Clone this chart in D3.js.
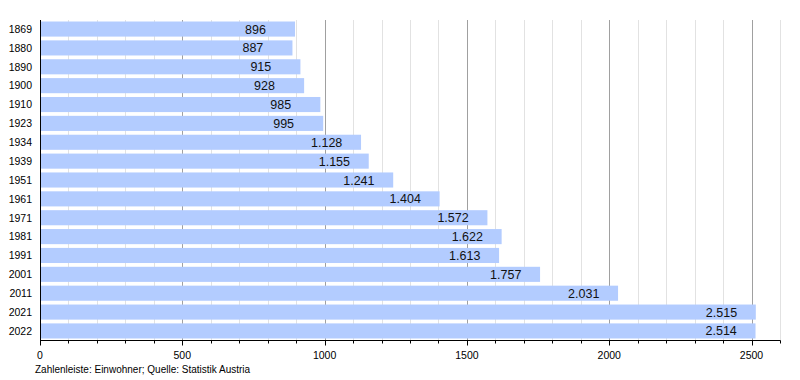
<!DOCTYPE html>
<html>
<head>
<meta charset="utf-8">
<script src="https://cdn.jsdelivr.net/npm/d3@7"></script>
<style>
  body { margin: 0; background: #fff; }
  svg { display: block; font-family: "Liberation Sans", Arial, sans-serif; }
</style>
</head>
<body>
<svg width="800" height="380"></svg>
<script>
// data
var years = ["1869", "1880", "1890", "1900", "1910", "1923", "1934", "1939", "1951",
             "1961", "1971", "1981", "1991", "2001", "2011", "2021", "2022"];
var population = [896, 887, 915, 928, 985, 995, 1128, 1155, 1241,
                  1404, 1572, 1622, 1613, 1757, 2031, 2515, 2514];
var majorTicks = [0, 500, 1000, 1500, 2000, 2500];
var footerText = "Zahlenleiste: Einwohner; Quelle: Statistik Austria";

var svg = d3.select("svg");
// plot box (note: "top" is taken by window.top)
var plotLeft = 40, plotRight = 780, plotTop = 20, plotBottom = 340;

var x = d3.scaleLinear().domain([0, 2600]).range([plotLeft, plotRight]);
var y = d3.scaleBand().domain(years).range([plotTop, plotBottom])
    .paddingInner(0.2).paddingOuter(0.08);

// german number format (1.128)
var fmt = d3.formatLocale({ decimal: ",", thousands: ".", grouping: [3], currency: ["", "€"] }).format(",d");

// minor grid every 100
var minor = d3.range(100, 2601, 100).filter(function(v) { return v % 500 != 0; });
svg.append("g").selectAll("line")
    .data(minor)
    .enter().append("line")
    .attr("x1", function(d) { return Math.round(x(d)) + 0.5; })
    .attr("x2", function(d) { return Math.round(x(d)) + 0.5; })
    .attr("y1", plotTop).attr("y2", plotBottom)
    .attr("stroke", "#e2e2e2");

// major grid
svg.append("g").selectAll("line")
    .data(majorTicks.slice(1))
    .enter().append("line")
    .attr("x1", function(d) { return Math.round(x(d)) + 0.5; })
    .attr("x2", function(d) { return Math.round(x(d)) + 0.5; })
    .attr("y1", plotTop).attr("y2", plotBottom)
    .attr("stroke", "#a0a0a0");

// bars
svg.append("g").selectAll("rect")
    .data(population)
    .enter().append("rect")
    .attr("x", x(0))
    .attr("y", function(d, i) { return y(years[i]); })
    .attr("width", function(d) { return x(d) - x(0); })
    .attr("height", y.bandwidth())
    .attr("fill", "#b3ccff");

// value labels, start 50px left of bar end
svg.append("g").selectAll("text")
    .data(population)
    .enter().append("text")
    .attr("x", function(d) { return x(d) - 50; })
    .attr("y", function(d, i) { return y(years[i]) + y.bandwidth() / 2; })
    .attr("dy", "0.36em")
    .attr("font-size", "12.5px")
    .attr("fill", "#111")
    .text(function(d) { return fmt(d); });

// y labels
svg.append("g").selectAll("text")
    .data(years)
    .enter().append("text")
    .attr("x", 32)
    .attr("y", function(d) { return y(d) + y.bandwidth() / 2; })
    .attr("dy", "0.36em")
    .attr("text-anchor", "end")
    .attr("font-size", "10.5px")
    .text(function(d) { return d; });

// y axis line
svg.append("line")
    .attr("x1", plotLeft + 0.5).attr("x2", plotLeft + 0.5)
    .attr("y1", plotTop).attr("y2", plotBottom + 5)
    .attr("stroke", "#000");

// x axis
var xAxis = svg.append("g")
    .attr("transform", "translate(0," + (plotBottom + 0.5) + ")");
xAxis.append("line")
    .attr("x1", plotLeft).attr("x2", plotRight + 0.5)
    .attr("stroke", "#000");
xAxis.selectAll(".minor")
    .data(minor)
    .enter().append("line")
    .attr("class", "minor")
    .attr("x1", function(d) { return Math.round(x(d)) + 0.5; })
    .attr("x2", function(d) { return Math.round(x(d)) + 0.5; })
    .attr("y1", 0).attr("y2", 3)
    .attr("stroke", "#000");
xAxis.selectAll(".major")
    .data(majorTicks)
    .enter().append("line")
    .attr("class", "major")
    .attr("x1", function(d) { return Math.round(x(d)) + 0.5; })
    .attr("x2", function(d) { return Math.round(x(d)) + 0.5; })
    .attr("y1", 0).attr("y2", 5)
    .attr("stroke", "#000");
xAxis.selectAll("text")
    .data(majorTicks)
    .enter().append("text")
    .attr("x", function(d) { return x(d); })
    .attr("y", 18)
    .attr("text-anchor", "middle")
    .attr("font-size", "10.5px")
    .text(function(d) { return d; });

// footer
svg.append("text")
    .attr("x", 35)
    .attr("y", 373)
    .attr("font-size", "10px")
    .text(footerText);
</script>
</body>
</html>
